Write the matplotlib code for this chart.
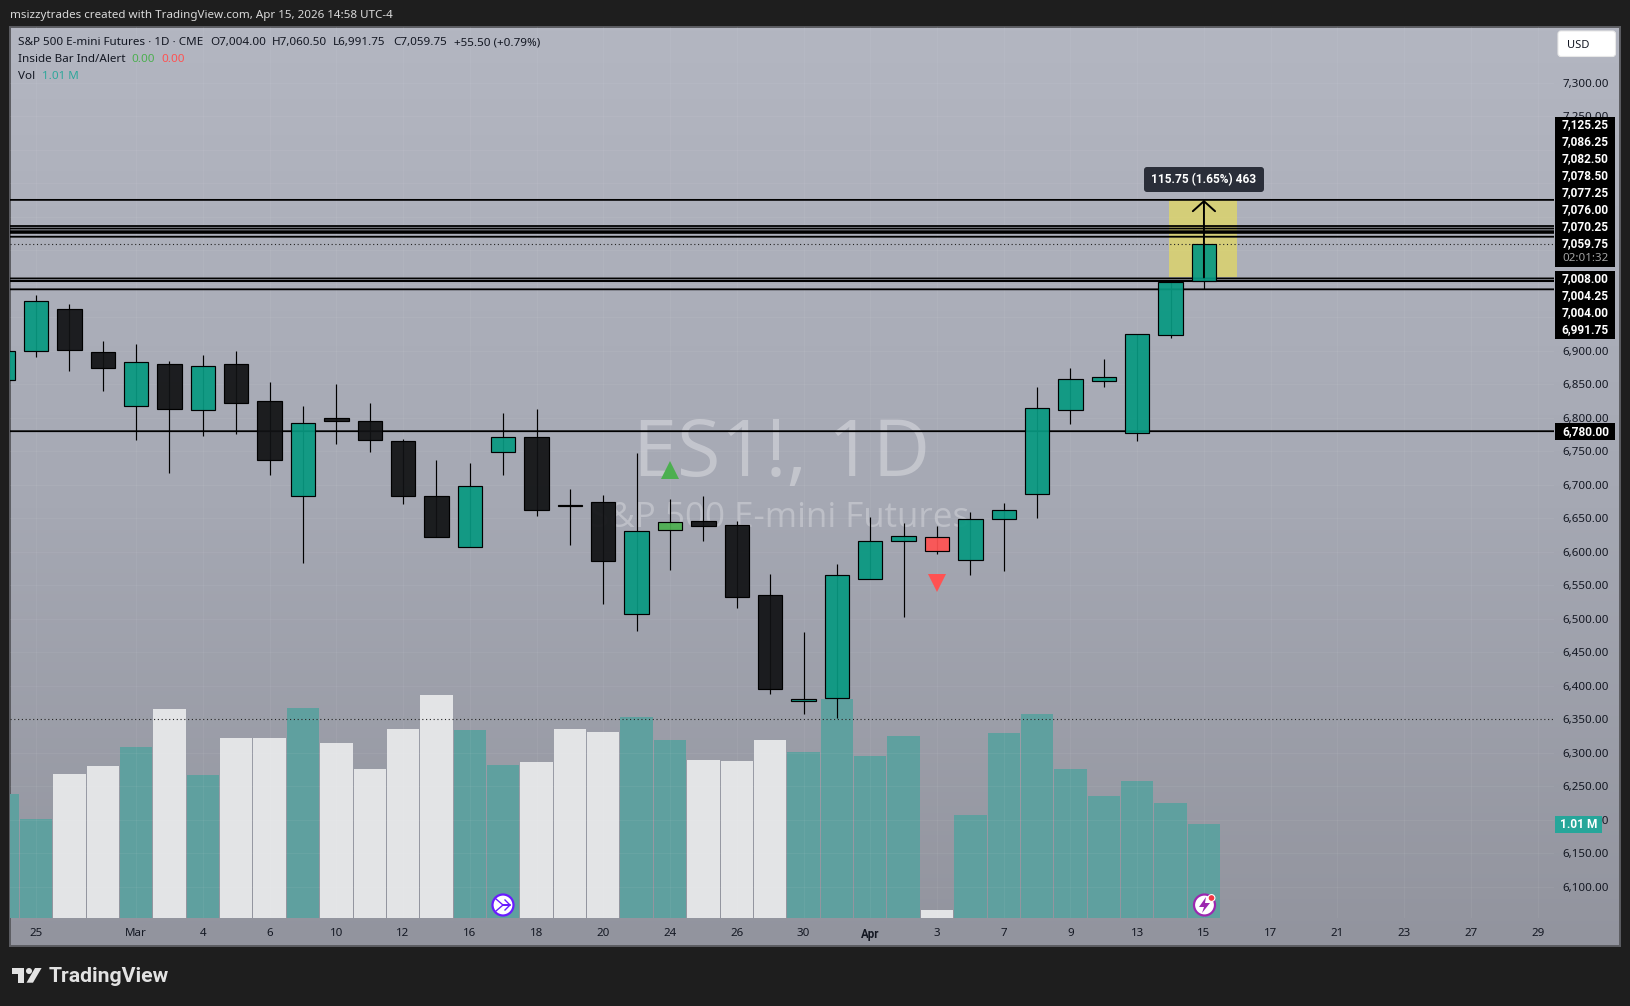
import numpy as np
import matplotlib
matplotlib.use("Agg")
import matplotlib.pyplot as plt
from matplotlib.colors import LinearSegmentedColormap, to_rgba
from matplotlib.patches import Circle, FancyBboxPatch, Polygon, Rectangle

# ---- data (index 0 = Feb 25, one step per session) ----
bar_index = list(range(-1, 36))
opens = [6857, 6899, 6963, 6897.5, 6818, 6881, 6811, 6881, 6824.4, 6683.6, 6799, 6794.6, 6764.7,
         6682.6, 6606.5, 6749, 6772, 6670.5, 6673.7, 6507.5, 6632.9, 6645.4, 6639.4, 6535, 6377.7,
         6382, 6559.8, 6616.5, 6601.6, 6588, 6648.3, 6686.6, 6811.5, 6855, 6777.7, 6923, 7004]
highs = [6899, 6983, 6969.7, 6914.5, 6910, 6884.6, 6893.5, 6899.5, 6853, 6817.5, 6850, 6822, 6768,
         6737, 6732, 6807, 6813, 6693.6, 6684.7, 6747.3, 6678.7, 6683, 6645.9, 6566.7, 6480,
         6581.7, 6651.8, 6642.4, 6638.4, 6659, 6672.7, 6845.8, 6874, 6888, 6925, 7005.5, 7060.5]
lows = [6857, 6891, 6870, 6840, 6767, 6718, 6773, 6776, 6715, 6583.6, 6761, 6749, 6671.7,
        6622, 6606.5, 6715, 6654, 6610.5, 6522.5, 6482, 6572.7, 6616, 6516, 6387.7, 6358,
        6351.8, 6559.8, 6503, 6597, 6565.8, 6571, 6650.8, 6791, 6846, 6765, 6919.5, 6991.75]
closes = [6899, 6973.7, 6901.5, 6873.7, 6882.6, 6812.5, 6876.6, 6822, 6737, 6791.6, 6795.5, 6767, 6683.6,
          6622, 6697.5, 6772, 6662, 6668.9, 6586.7, 6630.4, 6643.9, 6638.9, 6532.9, 6395.6, 6381,
          6566, 6615.5, 6623, 6621.5, 6648.3, 6661.8, 6814, 6858, 6861.5, 6925, 7003, 7059.75]
volumes = [1.332, 1.063, 1.547, 1.632, 1.837, 2.245, 1.536, 1.933, 1.933, 2.255, 1.880, 1.600, 2.030,
           2.395, 2.019, 1.643, 1.675, 2.030, 1.998, 2.159, 1.912, 1.697, 1.686, 1.912, 1.783,
           2.352, 1.740, 1.955, 0.086, 1.106, 1.987, 2.191, 1.600, 1.310, 1.471, 1.235, 1.01]
white_volume_bars = [1, 2, 4, 6, 7, 9, 10, 11, 12, 15, 16, 17, 20, 21, 22, 27]
inside_up = 19
inside_down = 27
inside_up_marker = 6722
inside_down_marker = 6553.8

level_lines = [7125.25, 7086.25, 7082.50, 7078.50, 7077.25, 7076.00, 7070.25,
               7008.00, 7004.25, 7004.00, 6991.75, 6780.00]
last_price = 7059.75
low_dotted = 6351
measure_low = 7009.5
measure_high = 7125.25

price_ticks = list(range(6100, 7350, 50))
date_ticks = [0, 3, 5, 7, 9, 11, 13, 15, 17, 19, 21, 23, 25, 27, 29, 31, 33, 35, 37, 39, 41, 43, 45]
date_labels = ["25", "Mar", "4", "6", "10", "12", "16", "18", "20", "24", "26", "30", "Apr",
               "3", "7", "9", "13", "15", "17", "21", "23", "27", "29"]

# ---- colours and fonts ----
FONT = "Noto Sans"
BOLD_FONT = "Roboto"
plt.rcParams["font.family"] = [FONT, "DejaVu Sans"]
GREEN = "#089981"
BLACK = "#111214"
VOL_TEAL = "#5fa09f"
VOL_WHITE = "#e3e4e6"
TEXT = "#131722"

W, H = 1630, 1006
fig = plt.figure(figsize=(W / 100, H / 100), dpi=100, facecolor="#1e1e1e")


def px_axes(x0, y0, x1, y1, **kw):
    return fig.add_axes([x0 / W, 1 - y1 / H, (x1 - x0) / W, (y1 - y0) / H], **kw)


# gradient background of the whole panel
bg = px_axes(10, 27, 1620, 946, zorder=0)
cmap = LinearSegmentedColormap.from_list("pane", ["#b3b6c1", "#a6a9b4", "#92949e"])
bg.imshow(np.linspace(0, 1, 256).reshape(-1, 1), aspect="auto", cmap=cmap)
bg.set_xticks([])
bg.set_yticks([])
for s in bg.spines.values():
    s.set_color("#5c5d62")
    s.set_linewidth(1.4)

# pane scales: x index -> pixels is 36 + 33.37 * i, price -> pixels is 886.8 - 0.67 * (p - 6100)
PANE = (10, 27, 1554, 918)
xlim = ((PANE[0] - 36) / 33.37, (PANE[2] - 36) / 33.37)
ylim = (6100 + (886.8 - PANE[3]) / 0.67, 6100 + (886.8 - PANE[1]) / 0.67)

# watermark, behind everything in the pane
wm = px_axes(0, 0, W, H, zorder=0.5)
wm.patch.set_visible(False)
wm.set_xlim(0, W)
wm.set_ylim(H, 0)
wm.axis("off")
wm.text(782, 455, "ES1!, 1D", fontsize=57, color="white", alpha=0.33, ha="center", va="center",
        family="Open Sans")
wm.text(780, 518, "S&P 500 E-mini Futures", fontsize=25.2, color="white", alpha=0.28,
        ha="center", va="center", family="Open Sans")

# volume pane, drawn under the candles
vol_ax = px_axes(*PANE, zorder=1)
vol_ax.patch.set_visible(False)
vol_ax.set_xlim(xlim)
vol_ax.set_ylim(0, 9.575)
vol_ax.axis("off")
vol_colors = [VOL_WHITE if i in white_volume_bars else VOL_TEAL for i in bar_index]
vol_ax.bar(bar_index, volumes, width=0.97, color=vol_colors, linewidth=0)

# price pane
ax = px_axes(*PANE, zorder=2)
ax.patch.set_visible(False)
ax.set_xlim(xlim)
ax.set_ylim(ylim)
for s in ax.spines.values():
    s.set_visible(False)

ax.yaxis.tick_right()
ax.set_yticks(price_ticks)
ax.set_yticklabels([f"{p:,.2f}" for p in price_ticks], fontsize=8.3, color=TEXT)
ax.set_xticks(date_ticks)
ax.set_xticklabels(date_labels, fontsize=8.3, color=TEXT)
for lab in ax.get_xticklabels():
    if lab.get_text() == "Apr":
        lab.set_family(BOLD_FONT)
        lab.set_fontweight("bold")
ax.tick_params(axis="y", length=0, pad=6.3)
ax.tick_params(axis="x", length=0, pad=7.2)
ax.grid(True, color="white", alpha=0.05, linewidth=0.8, zorder=0)
ax.set_axisbelow(True)

# measure box
ax.add_patch(Rectangle((33.95, measure_low), 2.03, measure_high - measure_low,
                       facecolor="#e6db5c", alpha=0.7, linewidth=0, zorder=1))

# horizontal levels, unsnapped so the close ones keep their real spacing
levels = ax.hlines(level_lines, xlim[0], xlim[1], color="black", linewidth=1.3, zorder=2)
levels.set_snap(False)
ax.hlines(last_price, xlim[0], xlim[1], color="#222222", linewidth=0.8,
          linestyles=(0, (1, 2.4)), zorder=2)
ax.hlines(low_dotted, xlim[0], xlim[1], color="#222222", linewidth=0.8,
          linestyles=(0, (1, 2.4)), zorder=2)

# candles
for i, o, h, l, c in zip(bar_index, opens, highs, lows, closes):
    col = GREEN if c >= o else BLACK
    if i == inside_up:
        col = "#4caf50"
    if i == inside_down:
        col = "#ff5252"
    ax.vlines(i, l, h, color="black", linewidth=0.85, zorder=3)
    ax.bar(i, abs(c - o), bottom=min(o, c), width=0.73, color=to_rgba(col, 0.93),
           edgecolor="black", linewidth=0.85, zorder=3.5)

# measure arrow
ax.annotate("", xy=(35, measure_high), xytext=(35, measure_low), zorder=4,
            arrowprops=dict(arrowstyle="->,head_length=0.72,head_width=0.8", mutation_scale=10,
                            color="black", linewidth=1.4, shrinkA=0, shrinkB=0))

# inside bar markers
ax.plot(inside_up, inside_up_marker, marker="^", markersize=13.5, color="#4caf50",
        markeredgewidth=0, zorder=4)
ax.plot(inside_down, inside_down_marker, marker="v", markersize=13.5, color="#ff5252",
        markeredgewidth=0, zorder=4)

# overlay in pixel coordinates for the TradingView furniture
ov = px_axes(0, 0, W, H, zorder=5)
ov.patch.set_visible(False)
ov.set_xlim(0, W)
ov.set_ylim(H, 0)
ov.axis("off")

# header and legend
ov.text(10, 15.5, "msizzytrades created with TradingView.com, Apr 15, 2026 14:58 UTC-4",
        fontsize=8.35, color="#d9d9d9", va="center")
ov.text(18, 42.5, "S&P 500 E-mini Futures · 1D · CME", fontsize=8.4, color=TEXT, va="center")
ov.text(210, 42.5, "O7,004.00", fontsize=8.4, color=TEXT, va="center")
ov.text(272, 42.5, "H7,060.50", fontsize=8.4, color=TEXT, va="center")
ov.text(333, 42.5, "L6,991.75", fontsize=8.4, color=TEXT, va="center")
ov.text(393, 42.5, "C7,059.75", fontsize=8.4, color=TEXT, va="center")
ov.text(454, 42.5, "+55.50 (+0.79%)", fontsize=8.4, color=TEXT, va="center")
ov.text(18, 59.5, "Inside Bar Ind/Alert", fontsize=8.4, color=TEXT, va="center")
ov.text(131, 59.5, "0.00", fontsize=8.4, color="#4caf50", va="center")
ov.text(161.5, 59.5, "0.00", fontsize=8.4, color="#ff5252", va="center")
ov.text(18, 76.5, "Vol", fontsize=8.4, color=TEXT, va="center")
ov.text(41.5, 76.5, "1.01 M", fontsize=8.4, color="#2fa79b", va="center")

# USD button
ov.add_patch(FancyBboxPatch((1558, 31), 57.5, 25.5, boxstyle="round,pad=0,rounding_size=3",
                            facecolor="white", edgecolor="#e8e8e8", linewidth=0.8))
ov.text(1567, 45, "USD", fontsize=8, color=TEXT, va="center")

# price tags, stacked as the platform does it
ov.add_patch(Rectangle((1555, 117), 60, 150, facecolor="black", linewidth=0))
ov.add_patch(Rectangle((1555, 271), 60, 68, facecolor="black", linewidth=0))
ov.add_patch(Rectangle((1555, 423), 60, 17, facecolor="black", linewidth=0))
tag_rows = [124.7, 141.7, 158.3, 175.3, 192.3, 209.3, 226.7, 278.7, 295.7, 312.7, 329.7, 431.5]
for v, y in zip(level_lines, tag_rows):
    ov.text(1609, y, f"{v:,.2f}", fontsize=8.6, color="white", ha="right", va="center",
            family=BOLD_FONT, fontweight="bold")
ov.text(1609, 243.3, f"{last_price:,.2f}", fontsize=8.6, color="white", ha="right", va="center",
        family=BOLD_FONT, fontweight="bold")
ov.text(1609, 258.7, "02:01:32", fontsize=8.3, color="#a3a3a3", ha="right", va="center")

# volume tag
ov.add_patch(Rectangle((1555, 816), 47, 17, facecolor="#26a69a", linewidth=0))
ov.text(1578.5, 824.5, "1.01 M", fontsize=8.6, color="white", ha="center", va="center",
        family=BOLD_FONT, fontweight="bold")

# measure tooltip
ov.add_patch(FancyBboxPatch((1144, 167), 120, 25, boxstyle="round,pad=0,rounding_size=3",
                            facecolor="#2a2e39", linewidth=0))
ov.text(1204, 179.5, "115.75 (1.65%) 463", fontsize=8.6, color="white", ha="center", va="center",
        family=BOLD_FONT, fontweight="bold")

# event badges
ov.add_patch(Circle((503, 905), 10.5, facecolor="white", edgecolor="#6a1bff", linewidth=1.6))
ov.plot([496, 503, 510, 503], [899, 905, 905, 905], color="#6a1bff", linewidth=1)
ov.plot([496, 503], [911, 905], color="#6a1bff", linewidth=1)
ov.plot([505, 510, 505], [900, 905, 910], color="#6a1bff", linewidth=1)

ov.add_patch(Circle((1204.5, 905), 10.5, facecolor="white", edgecolor="#9c27b0", linewidth=1.6))
ov.add_patch(Polygon([(1206, 897), (1199, 907), (1204, 907), (1202, 913), (1210, 903), (1205, 903)],
                     facecolor="#9c27b0", linewidth=0))
ov.add_patch(Circle((1211.5, 898), 3.4, facecolor="#f23645", edgecolor="white", linewidth=0.8))

# TradingView logo
LOGO = "#e2e2e2"
ov.add_patch(Polygon([(11.5, 968), (24, 968), (24, 982.7), (18, 982.7), (18, 974), (11.5, 974)],
                     facecolor=LOGO, linewidth=0))
ov.add_patch(Circle((29, 971), 3, facecolor=LOGO, linewidth=0))
ov.add_patch(Polygon([(35, 968), (41.6, 968), (33, 982.7), (26.5, 982.7)],
                     facecolor=LOGO, linewidth=0))
ov.text(48.5, 976.5, "TradingView", fontsize=15.3, color=LOGO, va="center",
        family=BOLD_FONT, fontweight="bold")

fig.savefig("out.png", dpi=100, facecolor=fig.get_facecolor())
